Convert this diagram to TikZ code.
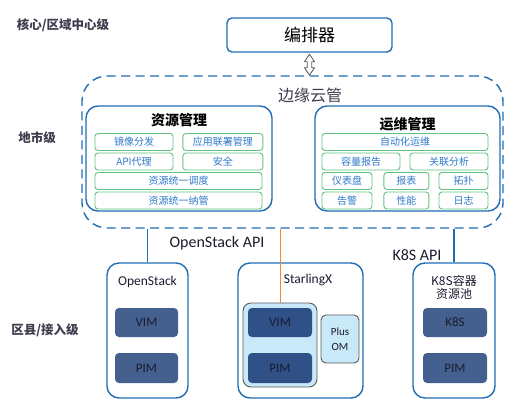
\documentclass[tikz,border=0pt]{standalone}
\usepackage{fontspec}
\setmainfont{Carlito}
\newfontfamily\cjk{Noto Sans CJK SC}
\usetikzlibrary{positioning,arrows.meta}
\definecolor{bl}{HTML}{1F6DB5}
\definecolor{gr}{HTML}{63C27F}
\definecolor{tx}{HTML}{2E78C8}
\definecolor{dka}{HTML}{44608F}
\definecolor{dkb}{HTML}{2F5188}
\definecolor{lb}{HTML}{C8E9F8}
\definecolor{gy}{HTML}{5A5A5A}
\definecolor{og}{HTML}{F0883A}
\definecolor{ink}{HTML}{1B1B2E}
\begin{document}
\begin{tikzpicture}[x=1pt,y=-1pt,
box/.style={draw=bl,line width=1.4pt,rounded corners=12pt,inner sep=0pt},
sub/.style={draw=gr,line width=0.9pt,rounded corners=3pt,minimum height=17pt,inner sep=0pt,text=tx,font=\cjk\fontsize{10}{11}\selectfont},
vm/.style={fill=#1,rounded corners=4pt,minimum width=64pt,minimum height=29pt,inner sep=0pt,text=ink,font=\fontsize{13}{14}\selectfont},
lvl/.style={text=ink!85,font=\cjk\bfseries\fontsize{12.5}{14}\selectfont},
ttl/.style={font=\cjk\bfseries\fontsize{14}{16}\selectfont}]
\useasboundingbox(0,0)rectangle(518,407);
% levels
\node[lvl](core)at(63,25){核心/区域中心级};
\node[lvl](city)at(37,138){地市级};
\node[lvl](cnty)at(45,330){区县/接入级};
% top
\node[box,rounded corners=5pt,minimum width=165pt,minimum height=34pt,font=\cjk\fontsize{17}{18}\selectfont](orch)at(309.5,35){编排器};
\node[draw=bl,line width=1.4pt,dash pattern=on 9pt off 5.5pt,rounded corners=25pt,minimum width=421pt,minimum height=152pt](cloud)at(292.5,152){};
\node[font=\cjk\fontsize{16}{18}\selectfont,text=ink!85](cl)at(310,95){边缘云管};
\draw[gy,fill=white,line width=0.8pt,line join=round,shift={(orch.south)}](0,1.5)--(5,9)--(2.3,9)--(2.3,15)--(5,15)--(0,22.5)--(-5,15)--(-2.3,15)--(-2.3,9)--(-5,9)--cycle;
% resource
\node[box,minimum width=186pt,minimum height=105pt](res)at(179,158.5){};
\node[ttl](rest)at(179,120){资源管理};
\node[sub,minimum width=78pt](jx)at(134,142){镜像分发};
\node[sub,minimum width=80pt,right=9pt of jx](yy){应用联署管理};
\node[sub,minimum width=78pt,below=1.6pt of jx](api){API代理};
\node[sub,minimum width=80pt,below=1.6pt of yy](aq){安全};
\node[sub,minimum width=167pt,below=1.6pt of api.south west,anchor=north west](dd){资源统一调度};
\node[sub,minimum width=167pt,below=1.6pt of dd](ng){资源统一纳管};
% ops
\node[box,minimum width=185pt,minimum height=105pt](ops)at(407.5,158.5){};
\node[ttl](opst)at(407.5,124){运维管理};
\node[sub,minimum width=166pt](zd)at(405,142){自动化运维};
\node[sub,minimum width=78pt,below=1.6pt of zd.south west,anchor=north west](rl){容量报告};
\node[sub,minimum width=78pt,below=1.6pt of zd.south east,anchor=north east](gl){关联分析};
\node[sub,minimum width=50pt,below=1.6pt of rl.south west,anchor=north west](yb){仪表盘};
\node[sub,minimum width=49pt,below=1.6pt of gl.south east,anchor=north east](tp){拓扑};
\node[sub,minimum width=45pt,below=1.6pt of rl.south east,anchor=north west,xshift=-17pt](bb){报表};
\node[sub,minimum width=50pt,below=1.6pt of yb](gj){告警};
\node[sub,minimum width=45pt,below=1.6pt of bb](xn){性能};
\node[sub,minimum width=49pt,below=1.6pt of tp](rz){日志};
% bottom
\node[box,minimum width=81pt,minimum height=135pt](os)at(147.5,330.5){};
\node[font=\fontsize{13.5}{14}\selectfont,text=ink](ost)at(147.5,282){OpenStack};
\node[vm=dka,minimum width=63pt](osv)at(146.5,322.5){VIM};
\node[vm=dka,minimum width=63pt,minimum height=30pt](osp)at(146.5,368){PIM};
\node[box,minimum width=125pt,minimum height=135pt](stx)at(300.5,330.5){};
\node[font=\fontsize{13.5}{14}\selectfont,text=ink](stxt)at(308,280){StarlingX};
\node[draw=gy,fill=lb,line width=0.9pt,rounded corners=8pt,minimum width=74pt,minimum height=84pt](stxin)at(280,345){};
\node[vm=dkb](stxv)at(280,322.5){VIM};
\node[vm=dkb,minimum height=30pt](stxp)at(280,368){PIM};
\node[draw=gy,fill=lb,line width=0.9pt,rounded corners=5pt,minimum width=38pt,minimum height=48pt,align=center,text=ink,font=\fontsize{11}{15}\selectfont](om)at(340,339){Plus\\OM};
\node[box,minimum width=82pt,minimum height=135pt](k8s)at(454,330.5){};
\node[align=center,font=\cjk\fontsize{12}{13}\selectfont,text=ink](k8st)at(454,287){K8S容器\\资源池};
\node[vm=dka](k8sv)at(455,322.5){K8S};
\node[vm=dka,minimum height=30pt](k8sp)at(455,368){PIM};
% links
\draw[bl,line width=1.2pt](os.north)--(os.north|-cloud.south);
\draw[og,line width=1pt](stxin.north)--(stxin.north|-cloud.south);
\draw[bl,line width=1.2pt](k8s.north)--(k8s.north|-cloud.south);
\node[font=\fontsize{16}{18}\selectfont,text=ink](osapi)at(217,243){OpenStack API};
\node[font=\fontsize{16}{18}\selectfont,text=ink](k8sapi)at(417,255){K8S API};
\end{tikzpicture}
\end{document}
